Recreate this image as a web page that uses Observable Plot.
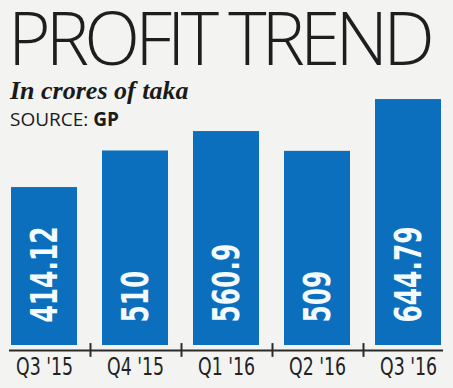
<!DOCTYPE html>
<html><head><meta charset="utf-8">
<script src="https://cdn.jsdelivr.net/npm/d3@7"></script>
<script src="https://cdn.jsdelivr.net/npm/@observablehq/plot@0.6"></script>
<style>
html,body{margin:0;padding:0;background:#f3f3f2;}
#wrap{position:relative;width:453px;height:388px;overflow:hidden;background:#f3f3f2;}
#chart{position:absolute;left:0;top:0;}
#title{position:absolute;left:8px;top:0;font-family:"Open Sans",sans-serif;font-weight:300;font-size:73px;line-height:73px;color:#1e1e1e;white-space:nowrap;}
#sub{position:absolute;left:10px;top:78px;font-family:"Liberation Serif",serif;font-style:italic;font-weight:bold;font-size:26px;line-height:26px;color:#1a1a1a;white-space:nowrap;}
#src{position:absolute;left:10px;top:110px;font-family:"Open Sans",sans-serif;font-size:19px;line-height:19px;color:#1a1a1a;white-space:nowrap;}
#src b{font-weight:700;}
</style></head>
<body>
<div id="wrap">
  <div id="chart"></div>
  <div id="title"><span id="tspan">PROFIT TREND</span></div>
  <div id="sub">In crores of taka</div>
  <div id="src">SOURCE: <b>GP</b></div>
</div>
<script>
const quarters = ["Q3 '15", "Q4 '15", "Q1 '16", "Q2 '16", "Q3 '16"];
const profits = [414.12, 510, 560.9, 509, 644.79];
const valueLabels = ["414.12", "510", "560.9", "509", "644.79"];

const data = quarters.map((q, i) => ({q, v: profits[i], label: valueLabels[i]}));
const narrow = "'Liberation Sans Narrow','DejaVu Sans Condensed',sans-serif";

const chart = Plot.plot({
  width: 453,
  height: 388,
  marginTop: 78,
  marginBottom: 43,
  marginLeft: 9,
  marginRight: 10,
  style: {background: "transparent", fontFamily: narrow, overflow: "visible"},
  x: {domain: quarters, paddingInner: 0.28, paddingOuter: 0, label: null},
  y: {domain: [0, 700], axis: null},
  marks: [
    Plot.barY(data, {x: "q", y: "v", fill: "#0b6fbd"}),
    Plot.text(data, {x: "q", y: 0, text: "label", rotate: -90, textAnchor: "start", dy: -23, dx: 1,
      fill: "#f4fbff", fontSize: 37, fontWeight: "bold", fontFamily: narrow}),
    Plot.ruleY([0], {dy: 5, stroke: "#2a2a2a", strokeWidth: 2}),
    Plot.ruleX(quarters.slice(0, -1), {x: d => d, dx: 46, y1: 5, y2: -31, stroke: "#2a2a2a", strokeWidth: 2}),
    Plot.axisX({tickSize: 0, tickPadding: 12, fontSize: 24, fontFamily: narrow, color: "#222", label: null})
  ]
});
document.getElementById("chart").appendChild(chart);

// condense the labels to the narrow width of the original typeface
const texts = Array.from(chart.querySelectorAll("text"));
function condenseGroup(strings, refString, refWidth) {
  const els = texts.filter(el => strings.includes(el.textContent));
  const ref = els.find(el => el.textContent === refString);
  if (!ref) return;
  const factor = Math.min(1, refWidth / ref.getComputedTextLength());
  els.forEach(el => {
    el.setAttribute("textLength", (el.getComputedTextLength() * factor).toFixed(1));
    el.setAttribute("lengthAdjust", "spacingAndGlyphs");
  });
}
condenseGroup(valueLabels, "414.12", 96);
condenseGroup(quarters, "Q3 '15", 57);

// fit title width with letter spacing
const span = document.getElementById("tspan");
const w = span.getBoundingClientRect().width;
document.getElementById("title").style.letterSpacing = ((422 - w) / 12).toFixed(2) + "px";
</script>
</body></html>
